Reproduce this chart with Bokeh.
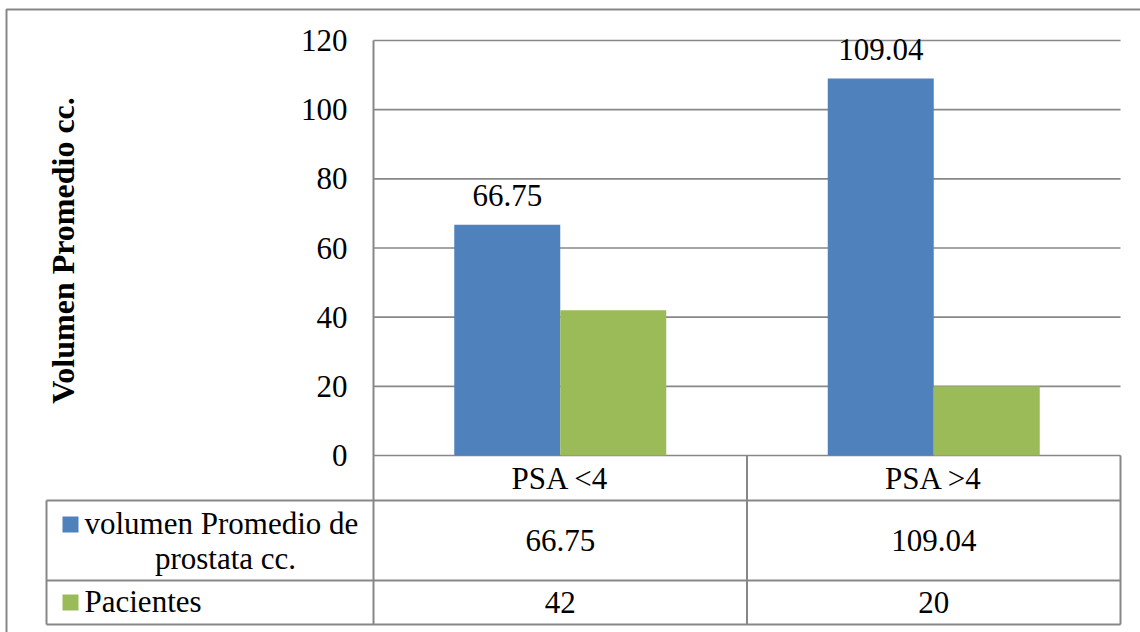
from bokeh.plotting import figure
from bokeh.models import Range1d
from bokeh.embed import file_html
from bokeh.resources import INLINE
from bokeh.core.properties import value

# ---------------- data ----------------
categories = ["PSA <4", "PSA >4"]
volumen = [66.75, 109.04]
pacientes = [42, 20]
series1_lines = ["volumen Promedio de", "prostata cc."]
series2_name = "Pacientes"
y_ticks = [0, 20, 40, 60, 80, 100, 120]
y_title = "Volumen Promedio cc."
colors = ["#4F81BD", "#9BBB59"]

# ---------------- layout (pixels) ----------------
W, H = 1140, 632
PX_L, PX_R = 373, 1120          # plot area left / right
PY_0, PY_TOP = 455, 40          # pixel y of value 0 and of top tick
sx = (PX_R - PX_L) / len(categories)
sy = (PY_0 - PY_TOP) / y_ticks[-1]

def X(px):
    return (px - PX_L) / sx

def Y(py):
    return (PY_0 - py) / sy

FONT = value("Liberation Serif")
FS = "31px"
GRID = "#878787"

p = figure(width=W, height=H, output_backend="svg", toolbar_location=None,
           x_axis_type=None, y_axis_type=None, min_border=0,
           x_range=Range1d(X(0), X(W)), y_range=Range1d(Y(H), Y(0)),
           outline_line_color=None, background_fill_color="white",
           border_fill_color="white")
p.grid.visible = False

# outer frame of the chart object
p.line(x=[X(6), X(6), X(W)], y=[Y(H), Y(9), Y(9)], line_color=GRID, line_width=2)

# gridlines
p.segment(x0=[X(PX_L)] * len(y_ticks), x1=[X(PX_R)] * len(y_ticks),
          y0=y_ticks, y1=y_ticks, line_color=GRID, line_width=1.6)

# tick labels
p.text(x=[X(347)] * len(y_ticks), y=y_ticks, text=[str(t) for t in y_ticks],
       text_font=FONT, text_font_size=FS, text_align="right",
       text_baseline="middle", text_color="black")

# axis title
p.text(x=[X(62)], y=[Y(250)], text=[y_title], angle=1.5707963,
       text_font=FONT, text_font_size="32px", text_font_style="bold",
       text_align="center", text_baseline="middle", text_color="black")

# bars
xc = [i + 0.5 for i in range(len(categories))]
bw = 106 / sx
x_blue = [c - bw / 2 for c in xc]
x_green = [c + bw / 2 for c in xc]
p.vbar(x=x_blue, top=volumen, width=bw, bottom=0, fill_color=colors[0], line_color=None)
p.vbar(x=x_green, top=pacientes, width=bw, bottom=0, fill_color=colors[1], line_color=None)

# data labels (first series)
p.text(x=x_blue, y=[v + 29 / sy for v in volumen], text=[f"{v:.2f}" for v in volumen],
       text_font=FONT, text_font_size=FS, text_align="center",
       text_baseline="middle", text_color="black")

# ---------------- data table ----------------
TL = 46
R1, R2, R3 = 500, 580, 624
# horizontal lines
p.segment(x0=[X(TL), X(TL), X(TL)], x1=[X(PX_R)] * 3,
          y0=[Y(R1), Y(R2), Y(R3)], y1=[Y(R1), Y(R2), Y(R3)],
          line_color=GRID, line_width=2)
# vertical lines
p.segment(x0=[X(PX_L), 1, X(PX_R), X(TL)], x1=[X(PX_L), 1, X(PX_R), X(TL)],
          y0=[y_ticks[-1], 0, 0, Y(R1)], y1=[Y(R3), Y(R3), Y(R3), Y(R3)],
          line_color=GRID, line_width=2)

# header
p.text(x=xc, y=[Y((PY_0 + R1) / 2)] * len(xc), text=categories,
       text_font=FONT, text_font_size=FS, text_align="center",
       text_baseline="middle", text_color="black")
# series rows values
p.text(x=xc, y=[Y((R1 + R2) / 2)] * len(xc), text=[f"{v:.2f}" for v in volumen],
       text_font=FONT, text_font_size=FS, text_align="center",
       text_baseline="middle", text_color="black")
p.text(x=xc, y=[Y((R2 + R3) / 2)] * len(xc), text=[str(v) for v in pacientes],
       text_font=FONT, text_font_size=FS, text_align="center",
       text_baseline="middle", text_color="black")

# legend keys + names
p.rect(x=[X(70), X(70)], y=[Y(524), Y(602)], width=16, height=16,
       width_units="screen", height_units="screen",
       fill_color=colors, line_color=None)
p.text(x=[X(84)], y=[Y(523)], text=[series1_lines[0]],
       text_font=FONT, text_font_size=FS, text_align="left",
       text_baseline="middle", text_color="black")
p.text(x=[X(225)], y=[Y(558)], text=[series1_lines[1]],
       text_font=FONT, text_font_size=FS, text_align="center",
       text_baseline="middle", text_color="black")
p.text(x=[X(84)], y=[Y(601)], text=[series2_name],
       text_font=FONT, text_font_size=FS, text_align="left",
       text_baseline="middle", text_color="black")

open("out.html", "w").write(file_html(p, INLINE))
